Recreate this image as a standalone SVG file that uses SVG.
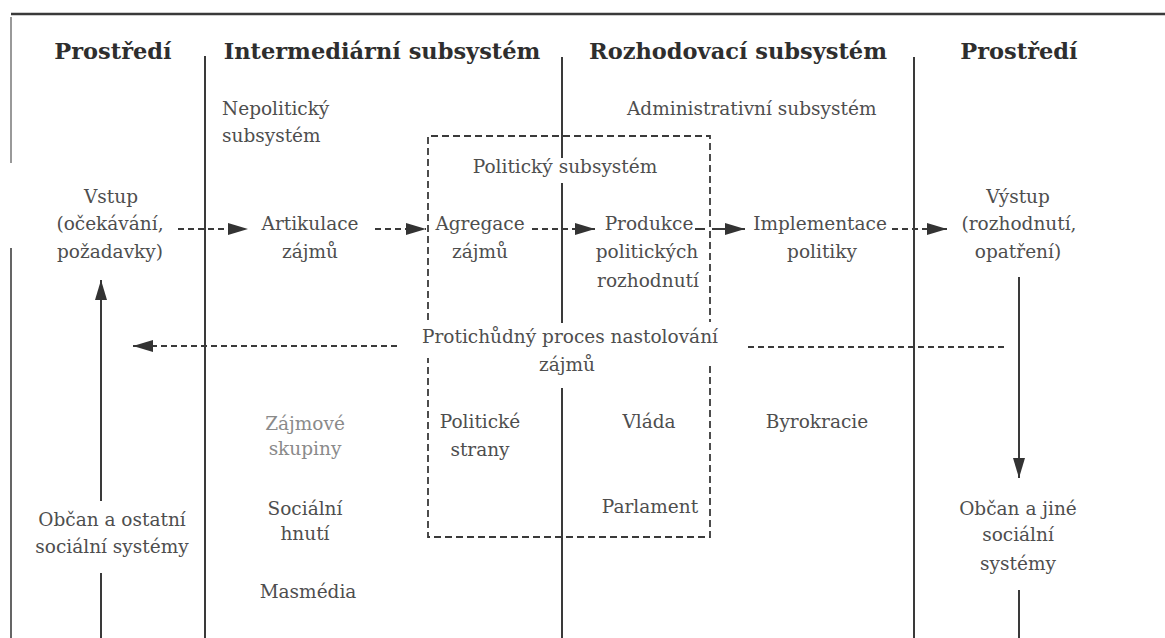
<svg xmlns="http://www.w3.org/2000/svg" width="1165" height="638" viewBox="0 0 1165 638">
<style>
.h{font-family:"DejaVu Serif","Liberation Serif",serif;font-weight:bold;font-size:22.5px;fill:#2e2e2e}
.t{font-family:"DejaVu Serif","Liberation Serif",serif;font-size:18.5px;fill:#4e4e4e}
.lt{fill:#8a8a8a}
.m{text-anchor:middle}
.frame{stroke:#3a3a3a;stroke-width:2;fill:none}
.box{stroke:#3a3a3a;stroke-width:1.8;fill:none;stroke-dasharray:7 4}
.dash{stroke:#3a3a3a;stroke-width:2;fill:none;stroke-dasharray:6 4}
.solid{stroke:#3a3a3a;stroke-width:2;fill:none}
</style>
<defs>
<marker id="ah" viewBox="0 0 20 12" refX="20" refY="6" markerWidth="20" markerHeight="12" orient="auto" markerUnits="userSpaceOnUse">
<path d="M0,0 L20,6 L0,12 z" fill="#333"/>
</marker>
</defs>
<rect width="1165" height="638" fill="#fff"/>
<g id="frame">
<line x1="11" y1="14" x2="1165" y2="14" stroke="#3a3a3a" stroke-width="2.5"/>
<line x1="11" y1="17" x2="11" y2="163" stroke="#777" stroke-width="1.5"/>
<line x1="11" y1="248" x2="11" y2="638" stroke="#555" stroke-width="1.8"/>
<line class="frame" x1="205" y1="56" x2="205" y2="638"/>
<line class="frame" x1="562" y1="57" x2="562" y2="158"/>
<line class="frame" x1="562" y1="183" x2="562" y2="323"/>
<line class="frame" x1="562" y1="388" x2="562" y2="638"/>
<line class="frame" x1="914" y1="57" x2="914" y2="638"/>
</g>
<g id="headers">
<text id="h-prostredi-l" class="h m" x="113" y="59">Prostředí</text>
<text id="h-intermediarni" class="h m" x="382" y="59">Intermediární subsystém</text>
<text id="h-rozhodovaci" class="h m" x="738" y="59">Rozhodovací subsystém</text>
<text id="h-prostredi-r" class="h m" x="1019" y="59">Prostředí</text>
</g>
<g id="politicky-subsystem">
<path class="box" d="M428,320 V136 H710 V322"/>
<path class="box" d="M710,366 V537 H428 V358"/>
<text class="t m" x="565" y="173">Politický subsystém</text>
</g>
<g id="nepoliticky"><text class="t" x="222" y="115">Nepolitický</text><text class="t" x="222" y="142">subsystém</text></g>
<g id="administrativni"><text class="t" x="627" y="115">Administrativní subsystém</text></g>
<g id="vstup"><text class="t m" x="111" y="203">Vstup</text><text class="t m" x="110" y="230">(očekávání,</text><text class="t m" x="110" y="258">požadavky)</text></g>
<g id="artikulace"><text class="t m" x="310" y="230">Artikulace</text><text class="t m" x="310" y="258">zájmů</text></g>
<g id="agregace"><text class="t m" x="480" y="230">Agregace</text><text class="t m" x="480" y="258">zájmů</text></g>
<g id="produkce"><text class="t m" x="649" y="230">Produkce</text><text class="t m" x="647" y="258">politických</text><text class="t m" x="648" y="287">rozhodnutí</text></g>
<g id="implementace"><text class="t m" x="820" y="230">Implementace</text><text class="t m" x="822" y="258">politiky</text></g>
<g id="vystup"><text class="t m" x="1018" y="203">Výstup</text><text class="t m" x="1019" y="230">(rozhodnutí,</text><text class="t m" x="1018" y="258">opatření)</text></g>
<g id="protichudny"><text class="t m" x="570" y="343">Protichůdný proces nastolování</text><text class="t m" x="567" y="371">zájmů</text></g>
<g id="zajmove"><text class="t m lt" x="305" y="430">Zájmové</text><text class="t m lt" x="305" y="455">skupiny</text></g>
<g id="socialni-hnuti"><text class="t m" x="305" y="515">Sociální</text><text class="t m" x="305" y="540">hnutí</text></g>
<g id="masmedia"><text class="t m" x="308" y="598">Masmédia</text></g>
<g id="politicke-strany"><text class="t m" x="480" y="428">Politické</text><text class="t m" x="480" y="456">strany</text></g>
<g id="vlada"><text class="t m" x="649" y="428">Vláda</text></g>
<g id="parlament"><text class="t m" x="650" y="513">Parlament</text></g>
<g id="byrokracie"><text class="t m" x="817" y="428">Byrokracie</text></g>
<g id="obcan-l"><text class="t m" x="112" y="526">Občan a ostatní</text><text class="t m" x="112" y="553">sociální systémy</text></g>
<g id="obcan-r"><text class="t m" x="1018" y="515">Občan a jiné</text><text class="t m" x="1018" y="541">sociální</text><text class="t m" x="1018" y="570">systémy</text></g>
<g id="connectors">
<path class="dash" d="M178,229 H248" marker-end="url(#ah)"/>
<path class="dash" d="M375,229 H426" marker-end="url(#ah)"/>
<path class="dash" d="M532,229 H595" marker-end="url(#ah)"/>
<path class="solid" d="M695,229 H705 M712,229 H745" marker-end="url(#ah)"/>
<path class="dash" d="M892,229 H947" marker-end="url(#ah)"/>
<path class="dash" d="M397,346 H133" marker-end="url(#ah)"/>
<path class="dash" d="M1004,347 H747"/>
<path class="solid" d="M101,501 V280" marker-end="url(#ah)"/>
<path class="solid" d="M101,638 V573"/>
<path class="solid" d="M1019,277 V478" marker-end="url(#ah)"/>
<path class="solid" d="M1019,590 V638"/>
</g>
</svg>
